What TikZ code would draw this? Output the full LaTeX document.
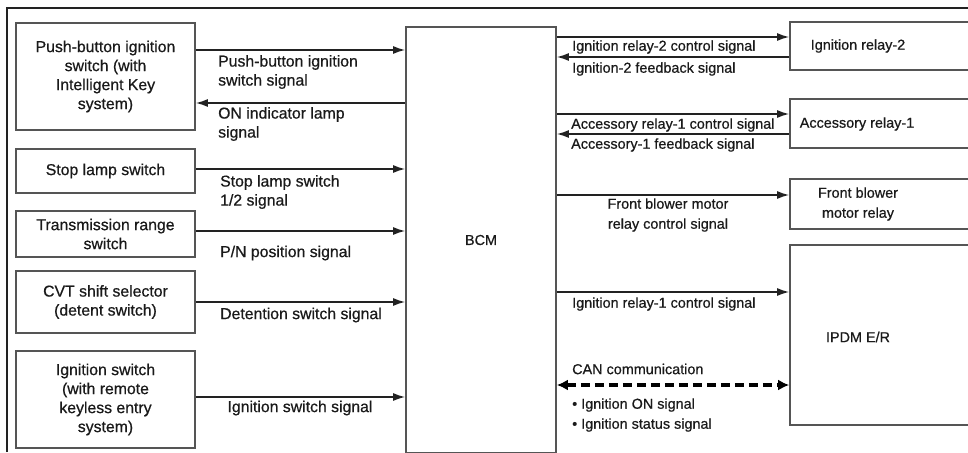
\documentclass[tikz,border=0pt]{standalone}
\usepackage{fontspec}
\setmainfont{Liberation Sans}[FakeBold=0.6,AutoFakeBold=0.6]
\usetikzlibrary{arrows.meta}
\definecolor{boxc}{HTML}{555555}
\definecolor{arrc}{HTML}{222222}
\definecolor{txt}{HTML}{1A1A1A}
\begin{document}
\begin{tikzpicture}[x=1pt,y=-1pt,
  box/.style={draw=boxc, line width=1.7pt, inner sep=0pt, align=center, text=txt, font=\fontsize{15.8}{19}\selectfont\bfseries},
  rbox/.style={draw=boxc, line width=1.7pt, inner sep=0pt, minimum width=180pt},
  ltxt/.style={font=\fontsize{15.8}{19}\selectfont\bfseries, text=txt, inner sep=0pt, align=left, anchor=west},
  rtxt/.style={font=\fontsize{14.4}{20}\selectfont\bfseries, text=txt, inner sep=0pt, align=left, anchor=west},
  arr/.style={draw=arrc, line width=1.5pt, -{Latex[length=12pt,width=8pt]}},
  canline/.style={draw=black, line width=4pt, dash pattern=on 9pt off 5pt, {Latex[length=11pt,width=11pt]}-{Latex[length=11pt,width=11pt]}},
  framel/.style={draw=arrc, line width=1.4pt}]
\useasboundingbox (0,0) rectangle (968,452);
\fill[white] (0,0) rectangle (968,452);
\draw[framel] (7,452) -- (7,8) -- (968,8);

% left boxes
\node[box, minimum width=179pt, minimum height=107pt] (pb) at (105.5,76.5) {Push-button ignition\\switch (with\\Intelligent Key\\system)};
\node[box, minimum width=179pt, minimum height=44pt] (sl) at (105.5,171) {Stop lamp switch};
\node[box, minimum width=179pt, minimum height=46pt] (tr) at (105.5,234) {Transmission range\\switch};
\node[box, minimum width=179pt, minimum height=62pt] (cvt) at (105.5,302) {CVT shift selector\\(detent switch)};
\node[box, minimum width=179pt, minimum height=97pt] (ign) at (105.5,399.5) {Ignition switch\\(with remote\\keyless entry\\system)};

% BCM
\node[box, minimum width=150pt, minimum height=426pt, font=\fontsize{14.4}{19}\selectfont\bfseries] (bcm) at (481,240) {BCM};

% right boxes
\node[rbox, minimum height=48pt] (ir2) at (880,46) {};
\node[rtxt, anchor=center] (ir2t) at (858,46) {Ignition relay-2};
\node[rbox, minimum height=49pt] (ar1) at (880,123.5) {};
\node[rtxt, anchor=center] (ar1t) at (857,124) {Accessory relay-1};
\node[rbox, minimum height=50pt] (fb) at (880,204) {};
\node[rtxt, anchor=center, align=center] (fbt) at (858,204) {Front blower\\motor relay};
\node[rbox, minimum height=180pt] (ipdm) at (880,335) {};
\node[rtxt, anchor=center] (ipdmt) at (858,337) {IPDM E/R};

% row coordinates
\coordinate (yA) at (0,50);
\coordinate (yB) at (0,103);
\coordinate (yC) at (0,169);
\coordinate (yD) at (0,231);
\coordinate (yE) at (0,302);
\coordinate (yF) at (0,397);
\coordinate (rA) at (0,37);
\coordinate (rB) at (0,57);
\coordinate (rC) at (0,114);
\coordinate (rD) at (0,134);
\coordinate (rE) at (0,195);
\coordinate (rF) at (0,292);
\coordinate (rG) at (0,385);

% left connectors
\draw[arr] (pb.east |- yA) -- (bcm.west |- yA);
\draw[arr] (bcm.west |- yB) -- (pb.east |- yB);
\draw[arr] (sl.east |- yC) -- (bcm.west |- yC);
\draw[arr] (tr.east |- yD) -- (bcm.west |- yD);
\draw[arr] (cvt.east |- yE) -- (bcm.west |- yE);
\draw[arr] (ign.east |- yF) -- (bcm.west |- yF);

% right connectors
\draw[arr] (bcm.east |- rA) -- (ir2.west |- rA);
\draw[arr] (ir2.west |- rB) -- (bcm.east |- rB);
\draw[arr] (bcm.east |- rC) -- (ar1.west |- rC);
\draw[arr] (ar1.west |- rD) -- (bcm.east |- rD);
\draw[arr] (bcm.east |- rE) -- (fb.west |- rE);
\draw[arr] (bcm.east |- rF) -- (ipdm.west |- rF);
\draw[canline] (bcm.east |- rG) -- (ipdm.west |- rG);

% left labels
\node[ltxt] (l1) at (218,72) {Push-button ignition\\switch signal};
\node[ltxt] (l2) at (218,124) {ON indicator lamp\\signal};
\node[ltxt] (l3) at (220,192) {Stop lamp switch\\1/2 signal};
\node[ltxt] (l4) at (220,253) {P/N position signal};
\node[ltxt] (l5) at (220,315) {Detention switch signal};
\node[ltxt, anchor=center] (l6) at (300,408) {Ignition switch signal};

% right labels
\node[rtxt] (r1) at (572,47) {Ignition relay-2 control signal};
\node[rtxt] (r2) at (572,69) {Ignition-2 feedback signal};
\node[rtxt] (r3) at (571,125) {Accessory relay-1 control signal};
\node[rtxt] (r4) at (571,145) {Accessory-1 feedback signal};
\node[rtxt, anchor=center, align=center] (r5) at (668,215) {Front blower motor\\relay control signal};
\node[rtxt] (r6) at (572,304) {Ignition relay-1 control signal};
\node[rtxt] (r7) at (572,369) {CAN communication};
\node[rtxt] (r8) at (572,415) {\textbullet\ Ignition ON signal\\\textbullet\ Ignition status signal};
\end{tikzpicture}
\end{document}
